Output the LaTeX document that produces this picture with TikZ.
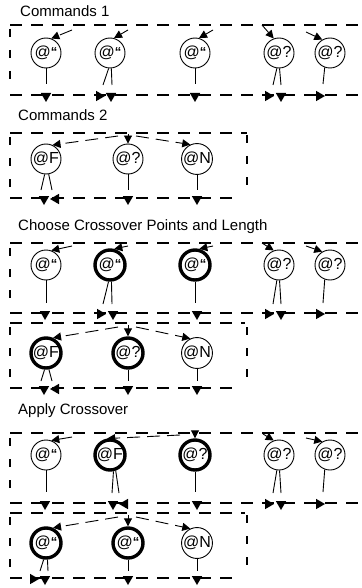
\documentclass[tikz,border=0pt]{standalone}
\usepackage{fontspec}
\setmainfont{Liberation Sans}
\usepackage{tikz}
\usetikzlibrary{positioning,shapes.geometric,arrows.meta}

\newcommand{\atq}{@\raisebox{0.15ex}{\fontsize{13}{13}\selectfont\bfseries “}}

\begin{document}
\begin{tikzpicture}[
    x=1pt, y=-1pt,
    gene/.style={
        draw,
        circle,
        line width=0.9pt,
        minimum size=30pt,
        inner sep=0pt,
        font=\fontsize{16}{16}\selectfont
    },
    hot/.style={gene, line width=3.4pt},
    title/.style={anchor=west, inner sep=0pt, font=\fontsize{15}{18}\selectfont},
    frame/.style={line width=2pt, dash pattern=on 12pt off 9pt},
    side/.style={line width=2pt, dash pattern=on 8pt off 13pt},
    link/.style={line width=0.9pt},
    feed/.style={line width=0.9pt, dash pattern=on 13pt off 7pt, -{Triangle[length=8pt,width=8pt]}},
    ahead/.style={regular polygon, regular polygon sides=3, fill, inner sep=0pt, minimum size=12pt},
    downtip/.style={ahead, rotate=180},
    righttip/.style={ahead, rotate=-90},
    lefttip/.style={ahead, rotate=90}
]
\useasboundingbox (0,0) rectangle (361,588);

% ---------- Commands 1
\node[title] (t1) at (20,11) {Commands 1};
\draw[frame] (10,25) -- (361,25);
\draw[side] (10,29) -- (10,82);
\draw[frame] (10,95) -- (361,95);

\node[gene] (a1) at (46,53) {\atq};
\node[gene] (a2) at (110,53) {\atq};
\node[gene] (a3) at (195,53) {\atq};
\node[gene] (a4) at (279,53) {@?};
\node[gene] (a5) at (330,53) {@?};

\coordinate (a1in) at (72,30);
\coordinate (a2in) at (128,30);
\coordinate (a3in) at (213,30);
\coordinate (a4in) at (262,25);
\coordinate (a5in) at (306,32);
\draw[feed] (a1in) -- (a1.70);
\draw[feed] (a2in) -- (a2.75);
\draw[feed] (a3in) -- (a3.75);
\draw[feed] (a4in) -- (a4.110);
\draw[feed] (a5in) -- (a5.120);

\coordinate (a1o) at (46,84);
\coordinate (a2l) at (103,85);
\coordinate (a2r) at (112,85);
\coordinate (a3o) at (195,84);
\coordinate (a4l) at (273,85);
\coordinate (a4r) at (281,85);
\coordinate (a5o) at (323,84);
\draw[link] (a1) -- (a1o);
\draw[link] (a2.265) -- (a2l);
\draw[link] (a2.275) -- (a2r);
\draw[link] (a3) -- (a3o);
\draw[link] (a4.262) -- (a4l);
\draw[link] (a4.272) -- (a4r);
\draw[link] (a5.250) -- (a5o);

\node[downtip] (p1) at (46,96) {};
\node[righttip] (p2) at (99,96) {};
\node[downtip] (p3) at (111,96) {};
\node[downtip] (p4) at (195,96) {};
\node[righttip] (p5) at (268,96) {};
\node[downtip] (p6) at (281,96) {};
\node[righttip] (p7) at (319,96) {};

% ---------- Commands 2
\node[title] (t2) at (18,115) {Commands 2};
\draw[frame] (10,133) -- (247,133);
\draw[side] (10,137) -- (10,194);
\draw[side] (247,135) -- (247,196);
\draw[frame] (10,198) -- (240,198);

\node[gene] (b1) at (46,159) {@F};
\node[gene] (b2) at (128,159) {@?};
\node[gene] (b3) at (197,159) {@N};

\coordinate (b1in) at (118,136);
\coordinate (b2in) at (128,134);
\coordinate (b3in) at (136,136);
\draw[feed] (b1in) -- (b1.65);
\draw[feed] (b2in) -- (b2.north);
\draw[feed] (b3in) -- (b3.115);

\coordinate (b1l) at (41,190);
\coordinate (b1r) at (52,190);
\coordinate (b2o) at (128,190);
\coordinate (b3o) at (197,190);
\draw[link] (b1.265) -- (b1l);
\draw[link] (b1.280) -- (b1r);
\draw[link] (b2) -- (b2o);
\draw[link] (b3) -- (b3o);

\node[downtip] (q1) at (44,199) {};
\node[lefttip] (q2) at (56,199) {};
\node[downtip] (q3) at (128,199) {};
\node[downtip] (q4) at (197,199) {};

% ---------- Choose Crossover Points and Length
\node[title] (t3) at (18,227) {Choose Crossover Points and Length};
\draw[frame] (10,243) -- (361,243);
\draw[side] (10,248) -- (10,300);
\draw[frame] (10,313) -- (361,313);

\node[gene] (c1) at (46,265) {\atq};
\node[hot] (c2) at (110,265) {\atq};
\node[hot] (c3) at (195,265) {\atq};
\node[gene] (c4) at (279,265) {@?};
\node[gene] (c5) at (330,265) {@?};

\coordinate (c1in) at (72,246);
\coordinate (c2in) at (128,246);
\coordinate (c3in) at (213,246);
\coordinate (c4in) at (262,243);
\coordinate (c5in) at (306,246);
\draw[feed] (c1in) -- (c1.70);
\draw[feed] (c2in) -- (c2.75);
\draw[feed] (c3in) -- (c3.75);
\draw[feed] (c4in) -- (c4.110);
\draw[feed] (c5in) -- (c5.120);

\coordinate (c1o) at (46,303);
\coordinate (c2l) at (103,304);
\coordinate (c2r) at (112,304);
\coordinate (c3o) at (195,303);
\coordinate (c4l) at (273,304);
\coordinate (c4r) at (281,304);
\coordinate (c5o) at (323,303);
\draw[link] (c1) -- (c1o);
\draw[link] (c2.265) -- (c2l);
\draw[link] (c2.275) -- (c2r);
\draw[link] (c3) -- (c3o);
\draw[link] (c4.262) -- (c4l);
\draw[link] (c4.272) -- (c4r);
\draw[link] (c5.250) -- (c5o);

\node[downtip] (r1) at (45,314) {};
\node[righttip] (r2) at (100,314) {};
\node[downtip] (r3) at (113,314) {};
\node[downtip] (r4) at (197,314) {};
\node[righttip] (r5) at (268,314) {};
\node[downtip] (r6) at (281,314) {};
\node[righttip] (r7) at (319,314) {};

\draw[frame] (10,323) -- (245,323);
\draw[side] (10,327) -- (10,385);
\draw[side] (247,327) -- (247,386);
\draw[frame] (10,388) -- (240,388);

\node[hot] (d1) at (46,353) {@F};
\node[hot] (d2) at (128,353) {@?};
\node[gene] (d3) at (197,353) {@N};

\coordinate (d1in) at (118,327);
\coordinate (d2in) at (128,325);
\coordinate (d3in) at (136,327);
\draw[feed] (d1in) -- (d1.65);
\draw[feed] (d2in) -- (d2.north);
\draw[feed] (d3in) -- (d3.115);

\coordinate (d1l) at (41,381);
\coordinate (d1r) at (52,381);
\coordinate (d2o) at (128,381);
\coordinate (d3o) at (197,381);
\draw[link] (d1.265) -- (d1l);
\draw[link] (d1.280) -- (d1r);
\draw[link] (d2) -- (d2o);
\draw[link] (d3) -- (d3o);

\node[downtip] (s1) at (44,389) {};
\node[lefttip] (s2) at (56,389) {};
\node[downtip] (s3) at (128,389) {};
\node[downtip] (s4) at (197,389) {};

% ---------- Apply Crossover
\node[title] (t4) at (18,411) {Apply Crossover};
\draw[frame] (10,433) -- (361,433);
\draw[side] (10,438) -- (10,490);
\draw[frame] (10,503) -- (361,503);

\node[gene] (e1) at (46,455) {\atq};
\node[hot] (e2) at (110,455) {@F};
\node[hot] (e3) at (195,455) {@?};
\node[gene] (e4) at (279,455) {@?};
\node[gene] (e5) at (330,455) {@?};

\coordinate (e1in) at (72,437);
\coordinate (e2in) at (180,435);
\coordinate (e3in) at (195,434);
\coordinate (e4in) at (263,434);
\coordinate (e5in) at (306,438);
\draw[feed] (e1in) -- (e1.70);
\draw[feed] (e2in) -- (e2.100);
\draw[feed] (e3in) -- (e3.north);
\draw[feed] (e4in) -- (e4.110);
\draw[feed] (e5in) -- (e5.120);

\coordinate (e1o) at (46,492);
\coordinate (e2l) at (112,493);
\coordinate (e2r) at (119,493);
\coordinate (e3o) at (195,492);
\coordinate (e4l) at (273,493);
\coordinate (e4r) at (281,493);
\coordinate (e5o) at (323,492);
\draw[link] (e1) -- (e1o);
\draw[link] (e2.282) -- (e2l);
\draw[link] (e2.290) -- (e2r);
\draw[link] (e3) -- (e3o);
\draw[link] (e4.262) -- (e4l);
\draw[link] (e4.272) -- (e4r);
\draw[link] (e5.250) -- (e5o);

\node[downtip] (u1) at (45,504) {};
\node[downtip] (u2) at (113,504) {};
\node[lefttip] (u3) at (125,504) {};
\node[downtip] (u4) at (197,504) {};
\node[righttip] (u5) at (268,504) {};
\node[downtip] (u6) at (281,504) {};
\node[righttip] (u7) at (319,504) {};

\draw[frame] (10,513) -- (245,513);
\draw[side] (10,517) -- (10,574);
\draw[side] (247,515) -- (247,576);
\draw[frame] (10,578) -- (240,578);

\node[hot] (f1) at (46,543) {\atq};
\node[hot] (f2) at (128,543) {\atq};
\node[gene] (f3) at (197,543) {@N};

\coordinate (f1in) at (118,517);
\coordinate (f2in) at (128,515);
\coordinate (f3in) at (136,517);
\draw[feed] (f1in) -- (f1.65);
\draw[feed] (f2in) -- (f2.north);
\draw[feed] (f3in) -- (f3.115);

\coordinate (f1l) at (40,571);
\coordinate (f1r) at (48,571);
\coordinate (f2o) at (128,571);
\coordinate (f3o) at (197,571);
\draw[link] (f1.262) -- (f1l);
\draw[link] (f1.275) -- (f1r);
\draw[link] (f2) -- (f2o);
\draw[link] (f3) -- (f3o);

\node[righttip] (w1) at (33,579) {};
\node[downtip] (w2) at (45,579) {};
\node[downtip] (w3) at (128,579) {};
\node[downtip] (w4) at (197,579) {};

\end{tikzpicture}
\end{document}
